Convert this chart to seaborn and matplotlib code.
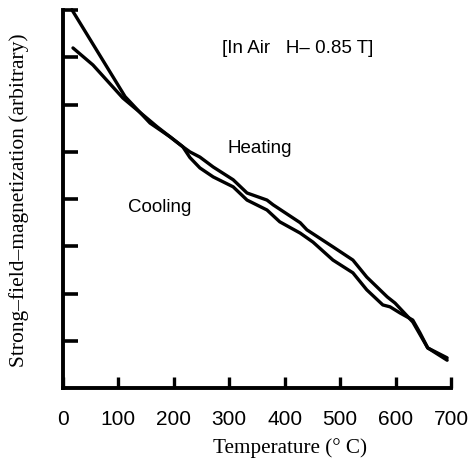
import numpy as np
import pandas as pd
import matplotlib
matplotlib.use("Agg")
import matplotlib.pyplot as plt
import seaborn as sns

# values (temperature in deg C, magnetization in arbitrary units)
heat_T = [18, 54, 108, 170, 216, 229, 247, 271, 307, 332, 368, 379, 428, 440,
          487, 523, 548, 585, 599, 631, 658, 693]
heat_M = [7.20, 6.84, 6.14, 5.53, 5.11, 5.00, 4.89, 4.68, 4.41, 4.13, 3.98, 3.88,
          3.50, 3.35, 2.99, 2.71, 2.35, 1.93, 1.80, 1.40, 0.85, 0.59]
cool_T = [16, 112, 157, 193, 216, 229, 247, 271, 307, 332, 368, 391, 428, 451, 487,
          523, 548, 577, 590, 608, 631, 644, 658, 693]
cool_M = [8.01, 6.17, 5.61, 5.32, 5.11, 4.88, 4.66, 4.47, 4.26, 3.98, 3.77, 3.52,
          3.28, 3.09, 2.71, 2.44, 2.08, 1.76, 1.72, 1.59, 1.44, 1.17, 0.85, 0.64]
xticks = [0, 100, 200, 300, 400, 500, 600, 700]
yticks = [1, 2, 3, 4, 5, 6, 7, 8]

heat = pd.DataFrame({"T": heat_T, "M": heat_M})
cool = pd.DataFrame({"T": cool_T, "M": cool_M})

sns.set_style("white")
plt.rcParams['font.family'] = ['Liberation Sans', 'DejaVu Sans']
plt.rcParams['text.color'] = 'black'
plt.rcParams['axes.labelcolor'] = 'black'

fig = plt.figure(figsize=(4.73, 4.62), dpi=100)
ax = fig.add_axes([0.1332, 0.160, 0.8203, 0.818])

sns.lineplot(data=heat, x="T", y="M", estimator=None, sort=False, color="black",
             linewidth=2.4, ax=ax, clip_on=False)
sns.lineplot(data=cool, x="T", y="M", estimator=None, sort=False, color="black",
             linewidth=2.4, ax=ax, clip_on=False)

ax.set_xlim(0, 700)
ax.set_ylim(0, 8)
ax.set_xticks(xticks)
ax.set_xticklabels([str(t) for t in xticks], fontsize=15)
ax.set_yticks(yticks)
ax.set_yticklabels([])
ax.tick_params(axis="x", bottom=True, direction="in", length=8, width=2.4, pad=16,
               colors="black")
ax.tick_params(axis="y", left=True, direction="in", length=11, width=2.6,
               colors="black")
for side in ["top", "right"]:
    ax.spines[side].set_visible(False)
for side in ["left", "bottom"]:
    ax.spines[side].set_linewidth(2.8)
    ax.spines[side].set_color("black")

ax.set_xlabel("Temperature (° C)", fontsize=15.2, family="Liberation Serif",
              va="center")
ax.set_ylabel("Strong–field–magnetization (arbitrary)", fontsize=15.5,
              family="Liberation Serif", va="center")
ax.xaxis.set_label_coords(0.585, -0.159)
ax.yaxis.set_label_coords(-0.113, 0.497)

ax.text(423, 7.18, "[In Air   H– 0.85 T]", fontsize=13.5, ha="center", va="center")
ax.text(355, 5.08, "Heating", fontsize=13.5, ha="center", va="center")
ax.text(175, 3.83, "Cooling", fontsize=13.5, ha="center", va="center")

fig.savefig("out.png", dpi=100)
